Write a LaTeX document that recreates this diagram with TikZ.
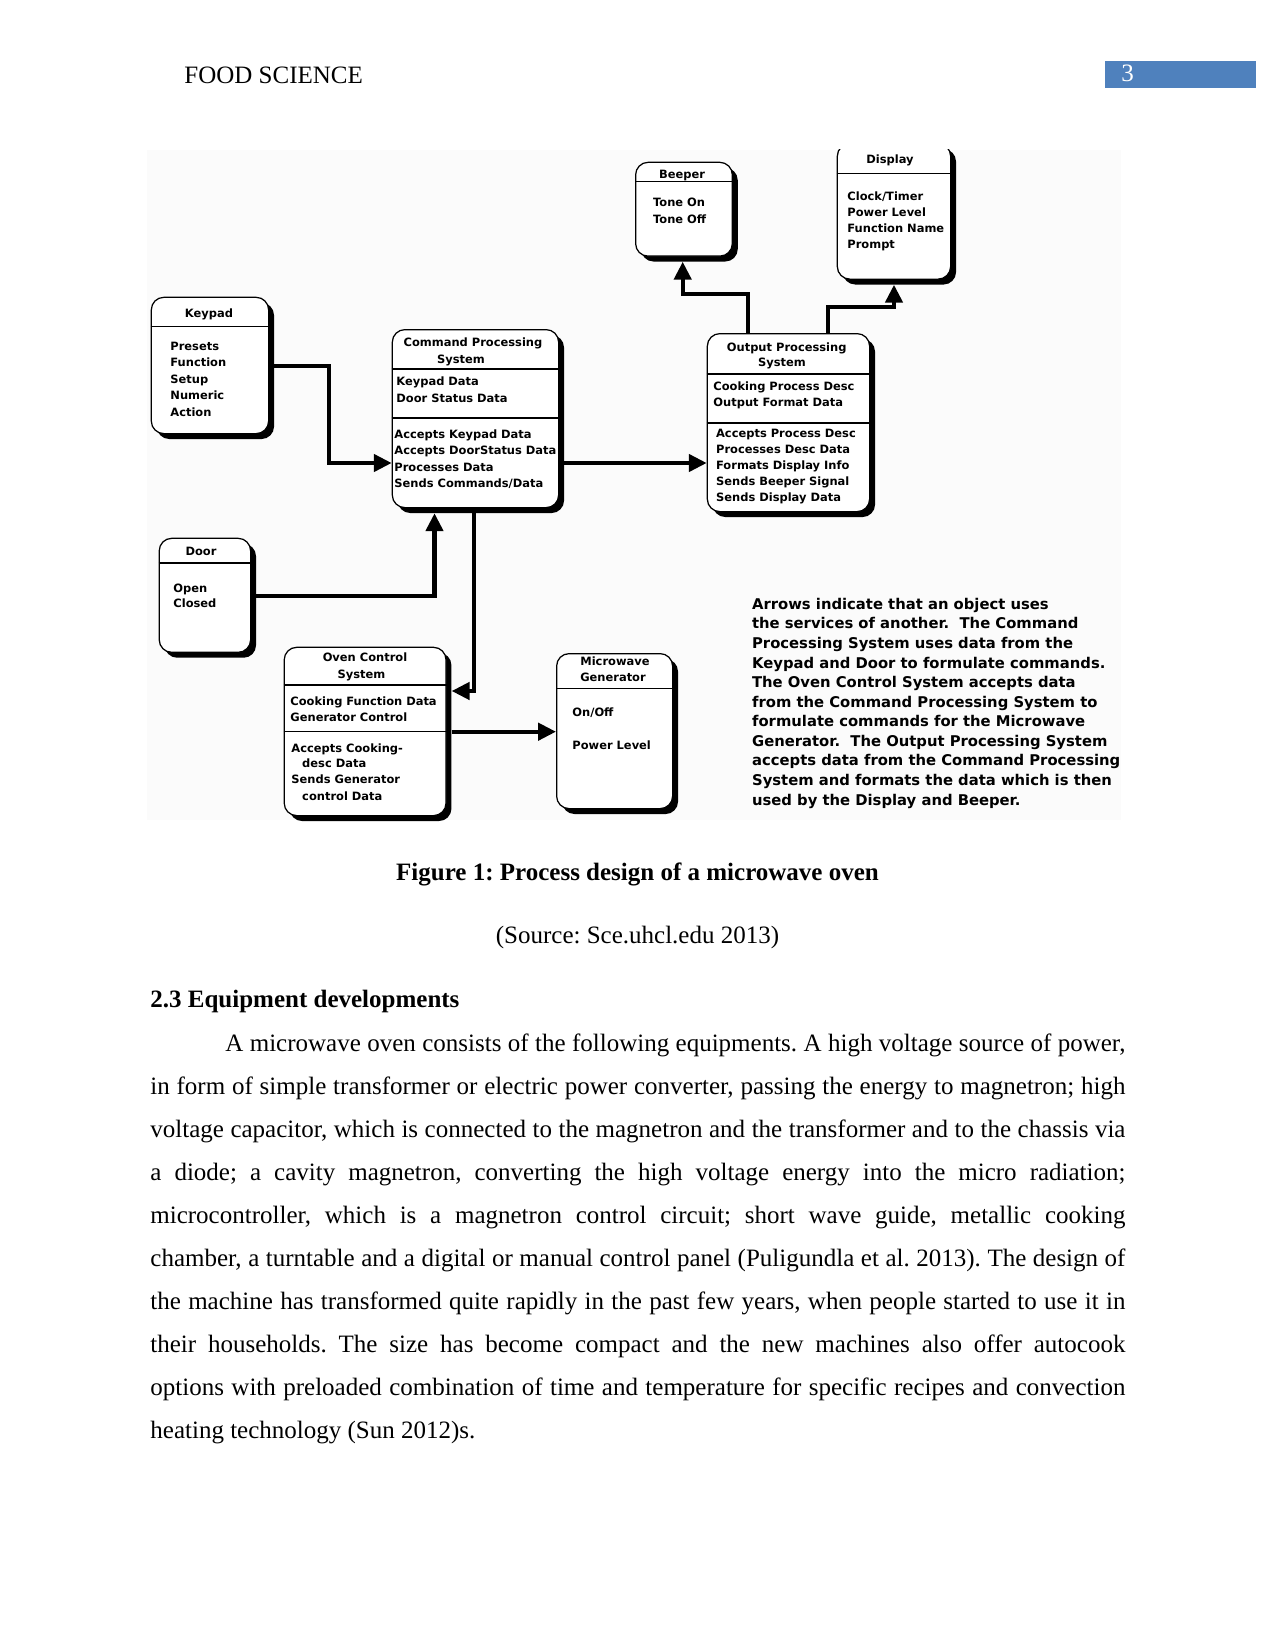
\documentclass[tikz,border=0pt]{standalone}
\usepackage{fontspec}
\setmainfont{Liberation Serif}
\newfontfamily\dfont{DejaVu Sans}
\usetikzlibrary{arrows.meta,shadows,calc}
\definecolor{hdrblue}{RGB}{79,129,189}
\newcommand\bxf{\dfont\bfseries\fontsize{5.5}{7}\selectfont}
\newcommand\anf{\dfont\bfseries\fontsize{7.1}{9}\selectfont}
\newcommand\bodyf{\fontsize{12}{14}\selectfont}
\newcommand\mkbox[5]{\node[box, minimum width={(#4-#2)*0.48pt}, minimum height={(#5-#3)*0.48pt}] (#1) at (#2,#3) {};}
\frenchspacing
\begin{document}
\begin{tikzpicture}[x=0.48pt,y=-0.48pt,
  box/.style={draw=black, line width=0.6pt, fill=white, rounded corners=6pt,
    inner sep=0pt, anchor=north west,
    drop shadow={shadow xshift=2.6pt, shadow yshift=-2.6pt, fill=black, opacity=1}},
  divider/.style={line width=0.6pt},
  arr/.style={line width=2pt, line join=miter, -{Triangle[length=8.6pt,width=8.2pt]}},
  tl/.style={anchor=base, inner sep=0pt, font=\bxf},
  it/.style={anchor=base west, inner sep=0pt, font=\bxf},
  an/.style={anchor=base west, inner sep=0pt, font=\anf},
  body/.style={anchor=base west, inner sep=0pt, font=\bodyf}]
\useasboundingbox (0,0) rectangle (1275,1651);
\fill[white] (0,0) rectangle (1275,1651);

% header
\node[body] (hdr) at (184,84) {FOOD SCIENCE};
\fill[hdrblue] (1105,61) rectangle (1256,88);
\node[body, text=white] (pg) at (1121,82) {3};

% diagram area
\fill[black!1.5] (147,150) rectangle (1121,820);
\begin{scope}
\clip (147,150) rectangle (1121,822);
\mkbox{kp}{150.7}{296.7}{268}{433}
\mkbox{cps}{391.7}{329}{558}{507}
\mkbox{ops}{706.7}{333}{869}{511}
\mkbox{bp}{635}{161.7}{731.7}{255.5}
\mkbox{ds}{836.7}{143}{950}{278.5}
\mkbox{dr}{158.6}{537.7}{250}{651.7}
\mkbox{ov}{283.6}{646.7}{445.4}{815}
\mkbox{mw}{556}{653}{672}{808}

% dividers
\draw[divider] (kp.west |- 0,326.7) -- (kp.east |- 0,326.7);
\draw[divider] (cps.west |- 0,369) -- (cps.east |- 0,369);
\draw[divider] (cps.west |- 0,418) -- (cps.east |- 0,418);
\draw[divider] (ops.west |- 0,374) -- (ops.east |- 0,374);
\draw[divider] (ops.west |- 0,423) -- (ops.east |- 0,423);
\draw[divider] (bp.west |- 0,181.7) -- (bp.east |- 0,181.7);
\draw[divider] (ds.west |- 0,173.3) -- (ds.east |- 0,173.3);
\draw[divider] (dr.west |- 0,563) -- (dr.east |- 0,563);
\draw[divider] (ov.west |- 0,685) -- (ov.east |- 0,685);
\draw[divider] (ov.west |- 0,731.7) -- (ov.east |- 0,731.7);
\draw[divider] (mw.west |- 0,688.3) -- (mw.east |- 0,688.3);

% Keypad
\node[tl] (kp-t) at (209,317.4) {Keypad};
\foreach \t [count=\i] in {Presets,Function,Setup,Numeric,Action}
  \node[it] (kp-\i) at (170,{350.4+(\i-1)*16.5}) {\t};

% Command Processing System
\node[tl] (cps-t1) at (473,346.4) {Command Processing};
\node[tl] (cps-t2) at (461,363.4) {System};
\node[it] (cps-a1) at (396,385.1) {Keypad Data};
\node[it] (cps-a2) at (396,402.1) {Door Status Data};
\foreach \t [count=\i] in {Accepts Keypad Data,Accepts DoorStatus Data,Processes Data,Sends Commands/Data}
  \node[it] (cps-b\i) at (394,{438.4+(\i-1)*16.35}) {\t};

% Output Processing System
\node[tl] (ops-t1) at (786.7,351.1) {Output Processing};
\node[tl] (ops-t2) at (782,366.1) {System};
\node[it] (ops-a1) at (713,390.4) {Cooking Process Desc};
\node[it] (ops-a2) at (713,406.1) {Output Format Data};
\foreach \t [count=\i] in {Accepts Process Desc,Processes Desc Data,Formats Display Info,Sends Beeper Signal,Sends Display Data}
  \node[it] (ops-b\i) at (715.7,{437.1+(\i-1)*16.1}) {\t};

% Beeper
\node[tl] (bp-t) at (682,178.4) {Beeper};
\node[it] (bp-1) at (652.7,206.4) {Tone On};
\node[it] (bp-2) at (652.7,223.1) {Tone Off};

% Display
\node[tl] (ds-t) at (890,163.4) {Display};
\foreach \t [count=\i] in {Clock/Timer,Power Level,Function Name,Prompt}
  \node[it] (ds-\i) at (847,{200.1+(\i-1)*16.1}) {\t};

% Door
\node[tl] (dr-t) at (201,555.1) {Door};
\node[it] (dr-1) at (173,592.1) {Open};
\node[it] (dr-2) at (173,607.7) {Closed};

% Oven Control System
\node[tl] (ov-t1) at (365,661.7) {Oven Control};
\node[tl] (ov-t2) at (361.4,678.7) {System};
\node[it] (ov-a1) at (290,705.1) {Cooking Function Data};
\node[it] (ov-a2) at (290,721.1) {Generator Control};
\node[it] (ov-b1) at (291,752.1) {Accepts Cooking-};
\node[it] (ov-b2) at (301.8,767.7) {desc Data};
\node[it] (ov-b3) at (291,783.7) {Sends Generator};
\node[it] (ov-b4) at (301.8,800.1) {control Data};

% Microwave Generator
\node[tl] (mw-t1) at (615,665.4) {Microwave};
\node[tl] (mw-t2) at (613,681.1) {Generator};
\node[it] (mw-1) at (572,716.7) {On/Off};
\node[it] (mw-2) at (572,749.7) {Power Level};

% connectors
\draw[arr] (kp.east |- 0,365.7) -- (329,365.7) |- (cps.west |- 0,463);
\draw[arr] (dr.east |- 0,596) -| ($(cps.south -| 434.5,0)+(0,5)$);
\draw[arr] ($(cps.south -| 474,0)+(0,5)$) |- ($(ov.east |- 0,691)+(5,0)$);
\draw[arr] ($(cps.east |- 0,463)+(5,0)$) -- (ops.west |- 0,463);
\draw[arr] (ops.north -| 747.7,0) |- (682.7,294) -- ($(bp.south -| 682.7,0)+(0,5)$);
\draw[arr] (ops.north -| 827.7,0) |- (894,306.7) -- ($(ds.south -| 894,0)+(0,5)$);
\draw[arr] ($(ov.east |- 0,731.7)+(5,0)$) -- (mw.west |- 0,731.7);

% annotation
\foreach \t [count=\i] in {
  Arrows indicate that an object uses,
  the services of another.\ \ The Command,
  Processing System uses data from the,
  Keypad and Door to formulate commands.,
  The Oven Control System accepts data,
  from the Command Processing System to,
  formulate commands for the Microwave,
  Generator.\ \ The Output Processing System,
  accepts data from the Command Processing,
  System and formats the data which is then,
  used by the Display and Beeper.}
  \node[an] (note-\i) at (751.7,{609.3+(\i-1)*19.58}) {\t};
\end{scope}

% caption and body
\node[body, anchor=base] (cap) at (637.5,880) {\bfseries Figure 1: Process design of a microwave oven};
\node[body, anchor=base] (src) at (637.5,943) {(Source: Sce.uhcl.edu 2013)};
\node[body] (sec) at (150,1007) {\bfseries 2.3 Equipment developments};

\node[body] (l1) at (225,1051) {\makebox[432pt][s]{A microwave oven consists of the following equipments. A high voltage source of power,}};
\node[body] (l2) at (150,1094.1) {\makebox[468pt][s]{in form of simple transformer or electric power converter, passing the energy to magnetron; high}};
\node[body] (l3) at (150,1137.2) {\makebox[468pt][s]{voltage capacitor, which is connected to the magnetron and the transformer and to the chassis via}};
\node[body] (l4) at (150,1180.3) {\makebox[468pt][s]{a diode; a cavity magnetron, converting the high voltage energy into the micro radiation;}};
\node[body] (l5) at (150,1223.4) {\makebox[468pt][s]{microcontroller, which is a magnetron control circuit; short wave guide, metallic cooking}};
\node[body] (l6) at (150,1266.5) {\makebox[468pt][s]{chamber, a turntable and a digital or manual control panel (Puligundla et al. 2013). The design of}};
\node[body] (l7) at (150,1309.6) {\makebox[468pt][s]{the machine has transformed quite rapidly in the past few years, when people started to use it in}};
\node[body] (l8) at (150,1352.7) {\makebox[468pt][s]{their households. The size has become compact and the new machines also offer autocook}};
\node[body] (l9) at (150,1395.8) {\makebox[468pt][s]{options with preloaded combination of time and temperature for specific recipes and convection}};
\node[body] (l10) at (150,1438.9) {heating technology (Sun 2012)s.};
\end{tikzpicture}
\end{document}
